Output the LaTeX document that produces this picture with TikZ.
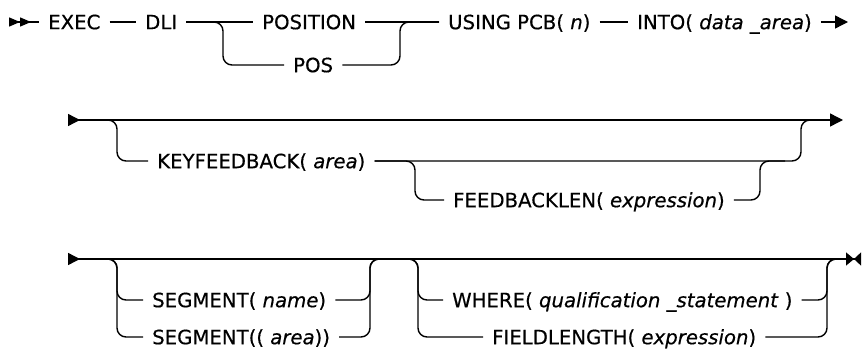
\documentclass[tikz,border=0pt]{standalone}
\usepackage{fontspec}
\setmainfont{DejaVu Sans}[FakeBold=0.5]
\usetikzlibrary{arrows.meta,calc}

\begin{document}
\begin{tikzpicture}[
  x=1pt, y=-1pt,
  kw/.style={anchor=west, inner xsep=9pt, inner ysep=0pt, text height=14.4pt, text depth=0pt, font=\fontsize{19.7}{24}\selectfont},
  rail/.style={line width=1.4pt, rounded corners=9pt},
  >={Triangle[length=13pt, width=13pt]}
]
  \useasboundingbox (0,0) rectangle (862,356);

  \coordinate (s1) at (9,22);
  \coordinate (e1) at (848,22);
  \coordinate (b1) at (223,43);
  \coordinate (m1) at (400,43);

  \node[kw] (exec)     at (39,22)  {EXEC};
  \node[kw] (dli)      at (136,22) {DLI};
  \node[kw] (position) at (253,22) {POSITION};
  \node[kw] (pos)      at (284,65) {POS};
  \node[kw] (using)    at (439,22) {USING PCB( \textit{n})};
  \node[kw] (into)     at (628,22) {INTO( \textit{data \_area})};

  \draw[rail, {Triangle[reversed, length=11pt, width=9pt]Triangle[reversed, length=11pt, width=9pt]}-] (s1) -- (exec);
  \draw[rail] (exec) -- (dli);
  \draw[rail] (dli) -- (position);
  \draw[rail] (dli) -| (b1) |- (pos);
  \draw[rail] (position) -- (using);
  \draw[rail] (pos) -| (m1) |- (using);
  \draw[rail] (using) -- (into);
  \draw[rail, ->] (into) -- (e1);

  \coordinate (s2) at (68,120);
  \coordinate (r2) at (100,120);
  \coordinate (e2) at (843,120);
  \coordinate (t2) at (820,120);
  \coordinate (b2) at (117,140);
  \coordinate (m2) at (801,140);
  \coordinate (b3) at (415,180);
  \coordinate (m3) at (760,180);
  \coordinate (t3) at (785,161);

  \node[kw] (kf) at (148,161) {KEYFEEDBACK( \textit{area})};
  \node[kw] (fb) at (444,200) {FEEDBACKLEN( \textit{expression})};

  \draw[rail, {Triangle[reversed, length=12pt, width=12pt]}->] (s2) -- (e2);
  \draw[rail] (r2) -| (b2) |- (kf);
  \draw[rail] (kf) -| (m2) |- (t2);
  \draw[rail] (kf) -| (b3) |- (fb);
  \draw[rail] (fb) -| (m3) |- (t3);

  \coordinate (s3) at (68,259);
  \coordinate (r3) at (100,259);
  \coordinate (r4) at (394,259);
  \coordinate (t4) at (840,259);
  \coordinate (e3) at (861,259);
  \coordinate (b4) at (117,280);
  \coordinate (b5) at (117,318);
  \coordinate (m4) at (370,280);
  \coordinate (m5) at (370,318);
  \coordinate (b6) at (418,280);
  \coordinate (b7) at (418,318);
  \coordinate (m6) at (827,280);
  \coordinate (m7) at (827,318);

  \node[kw] (seg1)  at (143,300) {SEGMENT( \textit{name})};
  \node[kw] (seg2)  at (143,337) {SEGMENT(( \textit{area}))};
  \node[kw] (where) at (443,300) {WHERE( \textit{qualification \_statement} )};
  \node[kw] (fl)    at (483,337) {FIELDLENGTH( \textit{expression})};

  \draw[rail, {Triangle[reversed, length=12pt, width=12pt]}-{Triangle[length=8pt, width=13pt]Triangle[reversed, length=7pt, width=13pt]}] (s3) -- (e3);
  \draw[rail] (r3) -| (b4) |- (seg1);
  \draw[rail] (r3) -| (b5) |- (seg2);
  \draw[rail] (seg1) -| (m4) |- (r4);
  \draw[rail] (seg2) -| (m5) |- (r4);
  \draw[rail] (r4) -| (b6) |- (where);
  \draw[rail] (r4) -| (b7) |- (fl);
  \draw[rail] (where) -| (m6) |- (t4);
  \draw[rail] (fl) -| (m7) |- (t4);
\end{tikzpicture}
\end{document}
